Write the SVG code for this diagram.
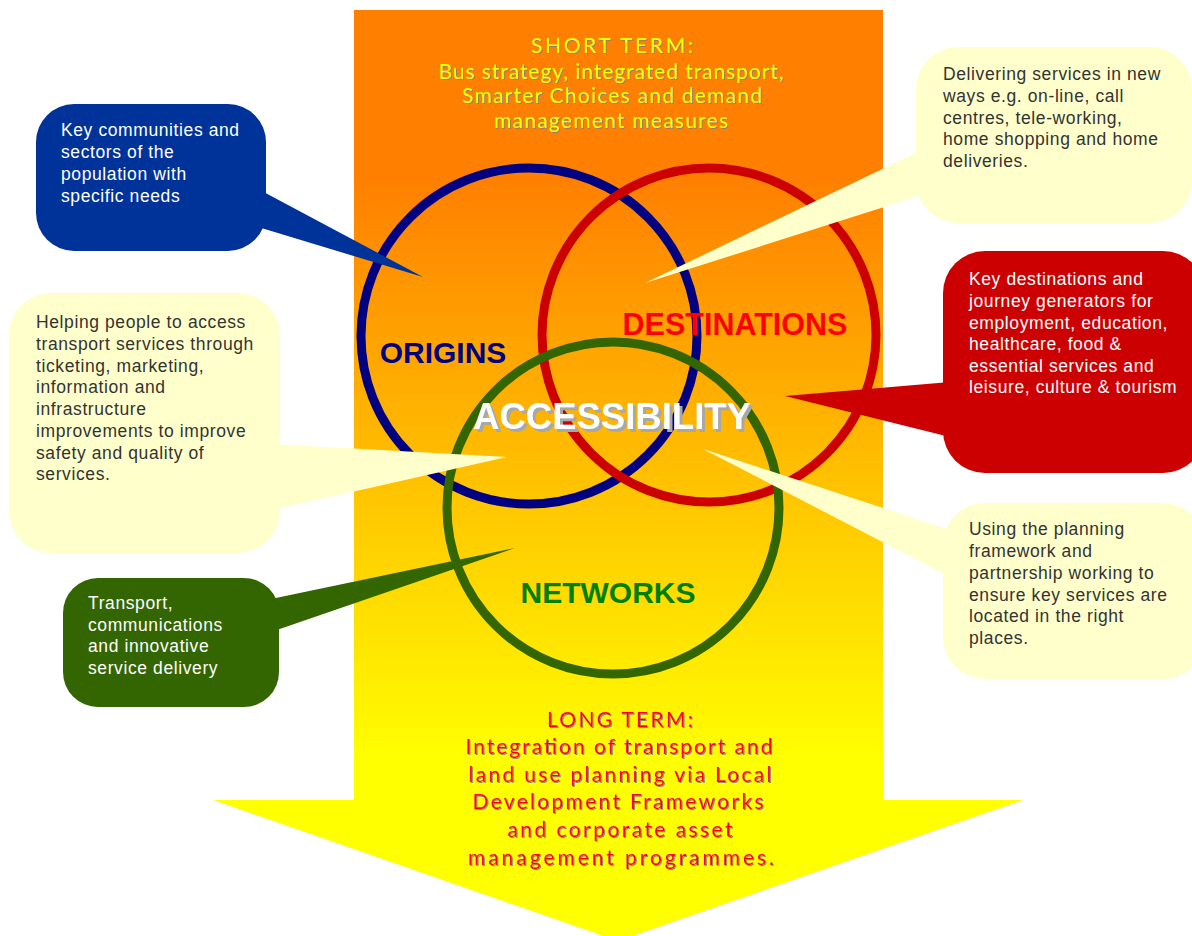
<svg xmlns="http://www.w3.org/2000/svg" width="1192" height="936" viewBox="0 0 1192 936">
<defs>
<linearGradient id="bg" x1="0" y1="180" x2="0" y2="760" gradientUnits="userSpaceOnUse">
<stop offset="0" stop-color="#FF8000"/>
<stop offset="1" stop-color="#FFFF00"/>
</linearGradient>
<filter id="sh1" x="-5%" y="-20%" width="110%" height="140%">
<feDropShadow dx="1" dy="1" stdDeviation="0.3" flood-color="#808080" flood-opacity="0.9"/>
</filter>
<filter id="sh3" x="-5%" y="-20%" width="110%" height="140%">
<feDropShadow dx="3" dy="3" stdDeviation="0.5" flood-color="#A8A8A8"/>
</filter>
</defs>
<style>
.ring{fill:none;stroke-width:9}
.lbl{font-family:"Liberation Sans",Arial,sans-serif;font-weight:bold;text-anchor:middle}
.term{font-family:Lato,"Liberation Sans",sans-serif;font-size:21px;text-anchor:middle;filter:url(#sh1)}
.st{fill:#FFFF00}
.lt{fill:#FF0000}
.ct{font-family:"Liberation Sans",Arial,sans-serif;font-size:17.5px;letter-spacing:0.6px}
.dark{fill:#333333}
.light{fill:#FFFFFF}
.cy{fill:#FFFFCC}
</style>

<g id="arrow">
<path d="M354,10 H883 V800 H1023 L618,941 L213,800 H354 Z" fill="url(#bg)"/>
</g>

<g id="short-term">
<text class="term st"><tspan x="612" y="53" textLength="162" lengthAdjust="spacing">SHORT TERM:</tspan><tspan x="611" y="79" textLength="345" lengthAdjust="spacing">Bus strategy, integrated transport,</tspan><tspan x="612" y="103" textLength="300" lengthAdjust="spacing">Smarter Choices and demand</tspan><tspan x="611" y="128" textLength="234" lengthAdjust="spacing">management measures</tspan></text>
</g>

<g id="long-term">
<text class="term lt"><tspan x="620" y="727" textLength="146" lengthAdjust="spacing">LONG TERM:</tspan><tspan x="619" y="754" textLength="307" lengthAdjust="spacing">Integration of transport and</tspan><tspan x="620" y="782" textLength="303" lengthAdjust="spacing">land use planning via Local</tspan><tspan x="618" y="809" textLength="291" lengthAdjust="spacing">Development Frameworks</tspan><tspan x="620" y="837" textLength="225" lengthAdjust="spacing">and corporate asset</tspan><tspan x="621" y="865" textLength="306" lengthAdjust="spacing">management programmes.</tspan></text>
</g>

<g id="origins">
<circle class="ring" cx="529" cy="336" r="168" stroke="#000080"/>
<text class="lbl" x="443" y="363" font-size="30" fill="#000080">ORIGINS</text>
</g>
<g id="destinations">
<circle class="ring" cx="709" cy="335" r="167" stroke="#CC0000"/>
<text class="lbl" x="735" y="335" font-size="30.5" fill="#FF0000">DESTINATIONS</text>
</g>
<g id="networks">
<circle class="ring" cx="613" cy="508" r="166" stroke="#336600"/>
<text class="lbl" x="608" y="603" font-size="30" fill="#008000">NETWORKS</text>
</g>
<g id="accessibility">
<text class="lbl" x="612" y="429" font-size="36.5" fill="#FFFFFF" filter="url(#sh3)">ACCESSIBILITY</text>
</g>

<g id="connectors">
<polygon points="258,189 423,277 258,227" fill="#003399"/>
<polygon points="922,150 645,283 922,195" class="cy"/>
<polygon points="272,444 507,457 272,510" class="cy"/>
<polygon points="950,382 785,396 950,437" fill="#CC0000"/>
<polygon points="950,530 703,449 950,577" class="cy"/>
<polygon points="271,599 515,548 271,632" fill="#336600"/>
</g>

<g id="callout-communities">
<rect x="36" y="104" width="230" height="147" rx="38" fill="#003399"/>
<text class="ct light"><tspan x="61" y="136">Key communities and</tspan><tspan x="61" y="158">sectors of the</tspan><tspan x="61" y="180">population with</tspan><tspan x="61" y="202">specific needs</tspan></text>
</g>

<g id="callout-delivering">
<rect x="916" y="47" width="276" height="176" rx="42" class="cy"/>
<text class="ct dark"><tspan x="943" y="80">Delivering services in new</tspan><tspan x="943" y="102">ways e.g. on-line, call</tspan><tspan x="943" y="124">centres, tele-working,</tspan><tspan x="943" y="145">home shopping and home</tspan><tspan x="943" y="167">deliveries.</tspan></text>
</g>

<g id="callout-helping">
<rect x="9" y="293" width="271" height="260" rx="42" class="cy"/>
<text class="ct dark"><tspan x="36" y="328">Helping people to access</tspan><tspan x="36" y="350">transport services through</tspan><tspan x="36" y="372">ticketing, marketing,</tspan><tspan x="36" y="393">information and</tspan><tspan x="36" y="415">infrastructure</tspan><tspan x="36" y="437">improvements to improve</tspan><tspan x="36" y="459">safety and quality of</tspan><tspan x="36" y="480">services.</tspan></text>
</g>

<g id="callout-destinations">
<rect x="943" y="251" width="262" height="222" rx="42" fill="#CC0000"/>
<text class="ct light"><tspan x="969" y="285">Key destinations and</tspan><tspan x="969" y="307">journey generators for</tspan><tspan x="969" y="329">employment, education,</tspan><tspan x="969" y="350">healthcare, food &amp;</tspan><tspan x="969" y="372">essential services and</tspan><tspan x="969" y="393">leisure, culture &amp; tourism</tspan></text>
</g>

<g id="callout-planning">
<rect x="943" y="503" width="262" height="176" rx="42" class="cy"/>
<text class="ct dark"><tspan x="969" y="535">Using the planning</tspan><tspan x="969" y="557">framework and</tspan><tspan x="969" y="579">partnership working to</tspan><tspan x="969" y="601">ensure key services are</tspan><tspan x="969" y="622">located in the right</tspan><tspan x="969" y="644">places.</tspan></text>
</g>

<g id="callout-transport">
<rect x="63" y="578" width="216" height="129" rx="35" fill="#336600"/>
<text class="ct light"><tspan x="88" y="609">Transport,</tspan><tspan x="88" y="631">communications</tspan><tspan x="88" y="652">and innovative</tspan><tspan x="88" y="674">service delivery</tspan></text>
</g>
</svg>
